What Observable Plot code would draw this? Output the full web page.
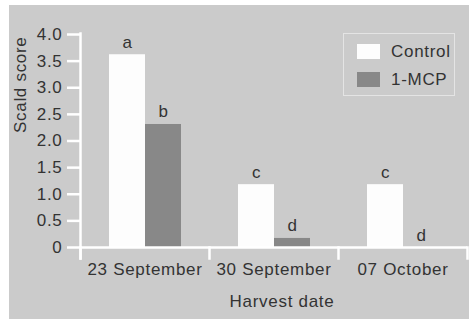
<!DOCTYPE html>
<html><head><meta charset="utf-8">
<script src="https://cdn.jsdelivr.net/npm/d3@7"></script>
<script src="https://cdn.jsdelivr.net/npm/@observablehq/plot@0.6"></script>
<style>
body{margin:0;background:#fff;}
#wrap{position:relative;width:469px;height:319px;overflow:hidden;background:#fff;}
#chart{position:absolute;left:9px;top:5px;}
#legend{position:absolute;left:343px;top:33px;width:112px;height:63px;border:1px solid #e4e4e4;box-sizing:border-box;font-family:"Liberation Sans",Arial,sans-serif;font-size:17px;letter-spacing:0.7px;color:#333;}
.row{position:absolute;left:13px;display:flex;align-items:center;height:15px;}
.sw{width:23px;height:15px;margin-right:11px;}
</style>
</head><body>
<div id="wrap"><div id="chart"></div><div id="legend"></div></div>
<script>
const dates = ["23 September", "30 September", "07 October"];
const series = ["Control", "1-MCP"];
const controlValues = [3.62, 1.18, 1.18];
const mcpValues = [2.31, 0.17, 0];
const controlLetters = ["a", "c", "c"];
const mcpLetters = ["b", "d", "d"];
const yTicks = [0, 0.5, 1, 1.5, 2, 2.5, 3, 3.5, 4];
const yTickLabels = ["0", "0.5", "1.0", "1.5", "2.0", "2.5", "3.0", "3.5", "4.0"];
const colors = ["#fdfdfd", "#888888"];
const yLabel = "Scald score";
const xLabel = "Harvest date";

const data = dates.flatMap((d, i) => [
  {date: d, series: "Control", value: controlValues[i], letter: controlLetters[i]},
  {date: d, series: "1-MCP", value: mcpValues[i], letter: mcpLetters[i]}
]);

const font = "'Liberation Sans', Arial, sans-serif";
const ink = "#333";
const plot = Plot.plot({
  width: 460, height: 314,
  marginTop: 29, marginBottom: 72, marginLeft: 71, marginRight: 2,
  style: {background: "#cbcbcb", fontFamily: font, fontSize: "17px", color: ink, letterSpacing: "0.7px"},
  fx: {domain: dates, padding: 0, label: null, axis: null},
  x: {domain: series, paddingInner: 0, paddingOuter: 0.767, axis: null},
  y: {domain: [0, 4], axis: null},
  color: {domain: series, range: colors},
  marks: [
    Plot.barY(data, {fx: "date", x: "series", y: "value", fill: "series"}),
    Plot.ruleY([0], {stroke: "white", strokeWidth: 2.5}),
    Plot.frame({anchor: "left", facetAnchor: "left", stroke: "white", strokeWidth: 2.5, insetTop: -1, insetBottom: -11}),
    Plot.frame({anchor: "left", stroke: "white", strokeWidth: 2.5, insetTop: 213, insetBottom: -11}),
    Plot.frame({anchor: "right", facetAnchor: "right", stroke: "white", strokeWidth: 2.5, insetTop: 213, insetBottom: -11}),
    Plot.axisY({ticks: yTicks, tickFormat: (d) => yTickLabels[yTicks.indexOf(d)], tickSize: 13, tickPadding: 5,
      stroke: "white", strokeWidth: 2.5, fill: ink, label: null, fontSize: 17}),
    Plot.axisFx({domain: dates, anchor: "bottom", tickSize: 0, tickPadding: 15, label: null, fill: ink, fontSize: 17}),
    Plot.text(data, {fx: "date", x: "series", y: "value", text: "letter", lineAnchor: "bottom", dy: -7, fill: ink, fontSize: 17}),
    Plot.text([yLabel], {facet: "super", frameAnchor: "left", rotate: -90, dx: -60, dy: -8, fill: ink, fontSize: 17}),
    Plot.text([xLabel], {facet: "super", frameAnchor: "bottom", lineAnchor: "bottom", dy: 59, dx: 8, fill: ink, fontSize: 17})
  ]
});
document.getElementById("chart").appendChild(plot);

const color = plot.scale("color");
const legend = document.getElementById("legend");
series.forEach((s, i) => {
  const row = document.createElement("div");
  row.className = "row";
  row.style.top = (10 + i * 28) + "px";
  const sw = document.createElement("div");
  sw.className = "sw";
  sw.style.background = color.apply(s);
  const lab = document.createElement("span");
  lab.textContent = s;
  row.appendChild(sw); row.appendChild(lab);
  legend.appendChild(row);
});
</script>
</body></html>
